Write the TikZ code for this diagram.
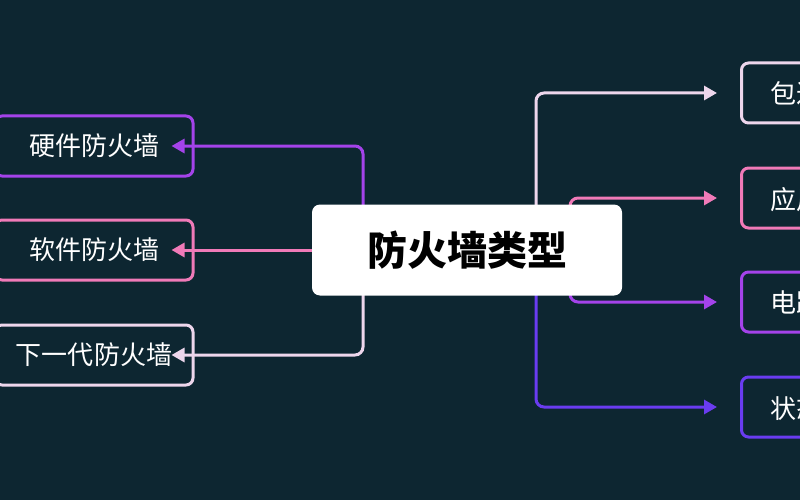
\documentclass[tikz,border=0pt]{standalone}
\usepackage{fontspec}
\setmainfont{Noto Sans CJK SC}
\usetikzlibrary{arrows.meta}
\definecolor{bg}{HTML}{0D2631}
\definecolor{cpur}{HTML}{A443EA}
\definecolor{cpink}{HTML}{F07AB8}
\definecolor{clight}{HTML}{EDD6EC}
\definecolor{cblue}{HTML}{6A3CF0}
\begin{document}
\begin{tikzpicture}[x=1pt,y=-1pt,
  leaf/.style={draw,line width=3pt,rounded corners=7pt,minimum width=198pt,minimum height=60pt,text=white,font=\fontsize{26}{29}\selectfont,inner sep=0pt},
  rleaf/.style={leaf,anchor=west,text width=140pt,align=left,inner xsep=29pt,text depth=0pt},
  conn/.style={line width=3pt,rounded corners=8pt,-{Triangle[length=13pt,width=14pt]}}]
\useasboundingbox (0,0) rectangle (800,500);
\fill[bg] (0,0) rectangle (800,500);
\begin{scope}
\clip (0,0) rectangle (800,500);
\node[leaf,draw=cpur] (h) at (94,146) {硬件防火墙};
\node[leaf,draw=cpink] (s) at (94,250) {软件防火墙};
\node[leaf,draw=clight] (n) at (94,355) {下一代防火墙};
\node[rleaf,draw=clight] (p) at (740,93) {包过滤防火墙};
\node[rleaf,draw=cpink] (a) at (740,198) {应用网关防火墙};
\node[rleaf,draw=cpur] (c) at (740,302) {电路级网关防火墙};
\node[rleaf,draw=cblue] (t) at (740,407) {状态检测防火墙};
\coordinate (cc) at (467,250);
\draw[conn,cpur] (363,250) |- ([xshift=-23pt]h.east);
\draw[conn,cpink] (cc) -- ([xshift=-23pt]s.east);
\draw[conn,clight] (363,250) |- ([xshift=-23pt]n.east);
\draw[conn,clight] (536,250) |- ([xshift=-23pt]p.west);
\draw[conn,cpink] (570,250) |- ([xshift=-23pt]a.west);
\draw[conn,cpur] (570,250) |- ([xshift=-23pt]c.west);
\draw[conn,cblue] (536,250) |- ([xshift=-23pt]t.west);
\node[fill=white,rounded corners=8pt,minimum width=310pt,minimum height=91pt,font=\bfseries\fontsize{40}{44}\selectfont,text=black] (m) at (cc) {防火墙类型};
\end{scope}
\end{tikzpicture}
\end{document}
